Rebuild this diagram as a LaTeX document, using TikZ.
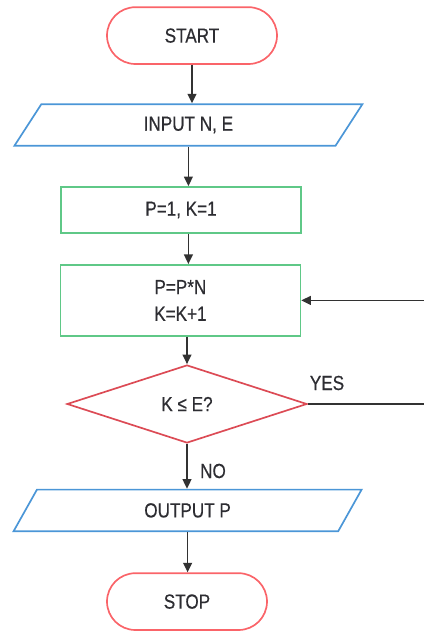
\documentclass[tikz,border=0pt]{standalone}
\usepackage{fontspec}
\setmainfont{Liberation Sans}[FakeStretch=0.84, FakeBold=0.5]
\usetikzlibrary{shapes.geometric,arrows.meta}
\definecolor{termred}{RGB}{250,100,105}
\definecolor{ioblue}{RGB}{75,150,215}
\definecolor{procgreen}{RGB}{95,200,135}
\definecolor{decred}{RGB}{220,75,85}
\definecolor{txtgray}{RGB}{45,45,50}
\definecolor{linegray}{RGB}{50,50,50}

\begin{document}
\begin{tikzpicture}[every node/.style={text=txtgray, font=\fontsize{14.5}{19}\selectfont, line width=1.2pt},
  term/.style={draw=termred, rectangle, rounded corners=0.71cm, minimum height=1.42cm},
  io/.style={draw=ioblue, trapezium, trapezium left angle=31.7, trapezium right angle=148.3,
    trapezium stretches body, minimum height=1.04cm, minimum width=8.7cm, inner sep=0pt},
  proc/.style={draw=procgreen, rectangle, minimum width=6cm, align=center},
  dec/.style={draw=decred, diamond, aspect=3, minimum width=6cm, minimum height=1.95cm, inner sep=0pt},
  flow/.style={draw=linegray, line width=1.2pt, -{Triangle[length=2.4mm,width=2.2mm]}}]
  \useasboundingbox (0cm, 0cm) rectangle (10.6cm, 15.95cm);

  \node (start) [term, minimum width=4.25cm] at (4.8cm, 15.06cm) {START};
  \node (input) [io] at (4.71cm, 12.825cm) {INPUT N, E};
  \node (pk) [proc, minimum height=1.15cm] at (4.525cm, 10.7cm) {P=1, K=1};
  \node (body) [proc, minimum height=1.775cm] at (4.51cm, 8.44cm) {P=P*N\\K=K+1};
  \node (cond) [dec] at (4.675cm, 5.85cm) {K ≤ E?};
  \node (output) [io] at (4.69cm, 3.19cm) {OUTPUT P};
  \node (stop) [term, minimum width=4cm] at (4.675cm, 0.91cm) {STOP};
  \node (yes) at (8.175cm, 6.375cm) {YES};
  \node (no) at (5.325cm, 4.175cm) {NO};
  \coordinate (rturn) at (10.75cm, 5.85cm);

  \draw[flow] (start.south) -- (start.south |- input.north);
  \draw[flow] (input.south) -- (input.south |- pk.north);
  \draw[flow] (input.south |- pk.south) -- (input.south |- body.north);
  \draw[flow] (cond.north |- body.south) -- (cond.north);
  \draw[flow] (cond.south) -- (cond.south |- output.north);
  \draw[flow] (output.south) -- (output.south |- stop.north);
  \draw[flow] (cond.east) -- (rturn) |- (body.east);
\end{tikzpicture}
\end{document}
